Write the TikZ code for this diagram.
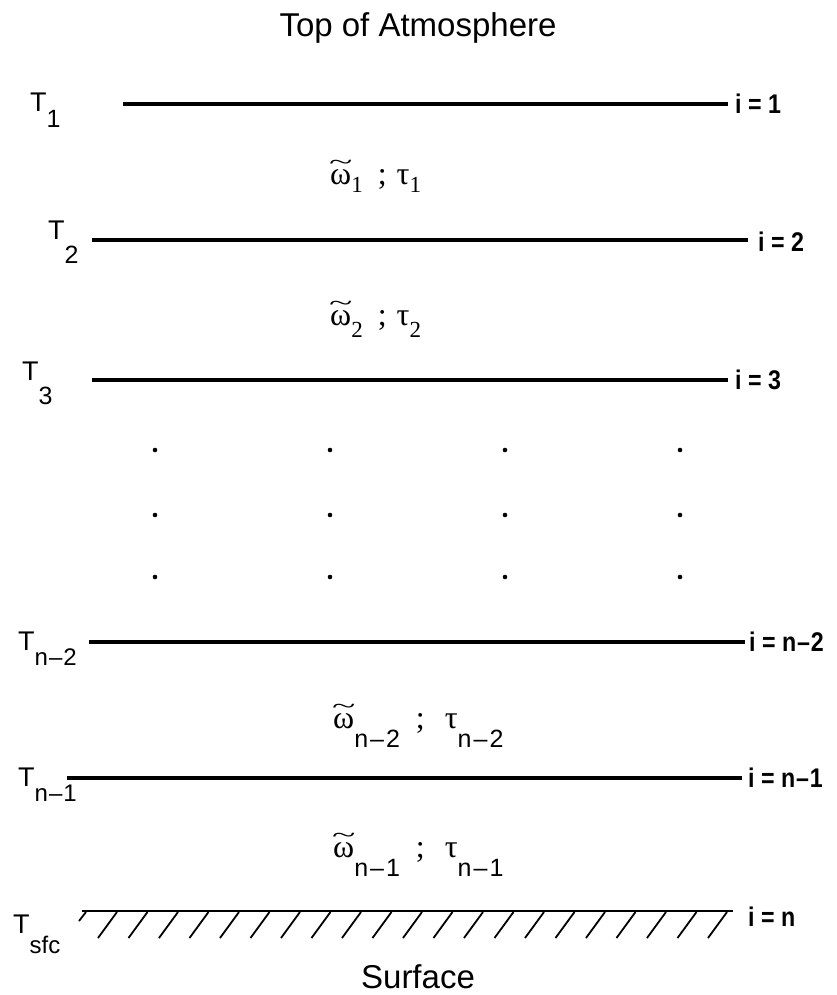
\documentclass[tikz,border=0pt]{standalone}
\usepackage{fontspec}
\setmainfont{Liberation Serif}
\newfontfamily\hv{Liberation Sans}
\usepackage{graphicx}
\newcommand\mysub[2]{\raisebox{-#1pt}{#2}}
\newcommand\wtil{\ooalign{ω\cr\hidewidth\raisebox{15pt}{\scalebox{1.35}[0.7]{\char"007E}}\hidewidth\cr}}
\begin{document}
\begin{tikzpicture}[x=1pt,y=-1pt,
  layer/.style={line width=3.2pt},
  ground/.style={line width=2pt},
  hatchline/.style={line width=1.8pt},
  tlab/.style={font=\hv\fontsize{27}{27}\selectfont, anchor=base west, inner sep=0pt},
  ilab/.style={font=\hv\bfseries\fontsize{27}{27}\selectfont, anchor=west, inner sep=0pt},
  wlab/.style={font=\fontsize{32}{32}\selectfont, anchor=base west, inner sep=0pt},
  ttl/.style={font=\hv\fontsize{33}{33}\selectfont, anchor=base, inner sep=0pt},
  dotnode/.style={circle, fill=black, inner sep=0pt, minimum size=4.6pt}]
\useasboundingbox (0,0) rectangle (837,995);
\fill[white] (0,0) rectangle (837,995);

% titles
\node[ttl] (top) at (418,37) {Top of Atmosphere};
\node[ttl] (sfc) at (418,988) {Surface};

% layer boundaries
\coordinate (a1) at (123,104); \coordinate (b1) at (728,104);
\coordinate (a2) at (92,240);  \coordinate (b2) at (748,240);
\coordinate (a3) at (92,380);  \coordinate (b3) at (728,380);
\coordinate (a4) at (89,642);  \coordinate (b4) at (745,642);
\coordinate (a5) at (67,778);  \coordinate (b5) at (742,778);
\coordinate (a6) at (82,911);  \coordinate (b6) at (733,911);

\draw[layer] (a1) -- (b1);
\draw[layer] (a2) -- (b2);
\draw[layer] (a3) -- (b3);
\draw[layer] (a4) -- (b4);
\draw[layer] (a5) -- (b5);
\draw[ground] (a6) -- (b6);

% hatching below the surface
\draw[hatchline] (79,921) -- (86,912);
\foreach \k in {0,...,20}{
  \draw[hatchline] ({98+30.5*\k},938) -- ({117+30.5*\k},912);
}

% temperature labels
\node[tlab] (T1) at (30,112) {T\mysub{16}{\fontsize{25}{25}\selectfont 1}};
\node[tlab] (T2) at (48,239) {T\mysub{24}{\fontsize{25}{25}\selectfont 2}};
\node[tlab] (T3) at (22,380) {T\mysub{24}{\fontsize{25}{25}\selectfont 3}};
\node[tlab] (T4) at (18,650) {T\mysub{15}{\fontsize{24}{24}\selectfont n\kern1pt–\kern1pt2}};
\node[tlab] (T5) at (18,786) {T\mysub{15}{\fontsize{24}{24}\selectfont n\kern1pt–\kern1pt1}};
\node[tlab] (T6) at (13,933) {T\mysub{20}{\fontsize{24}{24}\selectfont sfc}};

% level indices
\node[ilab] (i1) at (735,104) {\scalebox{0.86}[1]{i = 1}};
\node[ilab] (i2) at (758,242) {\scalebox{0.86}[1]{i = 2}};
\node[ilab] (i3) at (735,380) {\scalebox{0.86}[1]{i = 3}};
\node[ilab] (i4) at (749,642) {\scalebox{0.86}[1]{i = n\kern1pt–\kern1pt2}};
\node[ilab] (i5) at (748,778) {\scalebox{0.86}[1]{i = n\kern1pt–\kern1pt1}};
\node[ilab] (i6) at (748,917) {\scalebox{0.86}[1]{i = n}};

% layer properties
\node[wlab] (w1) at (330,185) {\wtil\mysub{8}{\fontsize{23}{23}\selectfont 1}\hspace{15pt};\hspace{10pt}τ\mysub{8}{\fontsize{23}{23}\selectfont 1}};
\node[wlab] (w2) at (330,325) {\wtil\mysub{12}{\fontsize{23}{23}\selectfont 2}\hspace{15pt};\hspace{10pt}τ\mysub{12}{\fontsize{23}{23}\selectfont 2}};
\node[wlab] (w4) at (333,728) {\wtil\mysub{19}{\hv\fontsize{25}{25}\selectfont n\kern2pt–\kern2pt2}\hspace{16pt};\hspace{20pt}τ\mysub{19}{\hv\fontsize{25}{25}\selectfont n\kern2pt–\kern2pt2}};
\node[wlab] (w5) at (333,857) {\wtil\mysub{19}{\hv\fontsize{25}{25}\selectfont n\kern2pt–\kern2pt1}\hspace{16pt};\hspace{20pt}τ\mysub{19}{\hv\fontsize{25}{25}\selectfont n\kern2pt–\kern2pt1}};

% continuation dots
\foreach \c [count=\ci] in {155,330,505,680}{
  \foreach \r [count=\ri] in {450,515,577}{
    \node[dotnode] (d\ci\ri) at (\c,\r) {};
  }
}
\end{tikzpicture}
\end{document}
